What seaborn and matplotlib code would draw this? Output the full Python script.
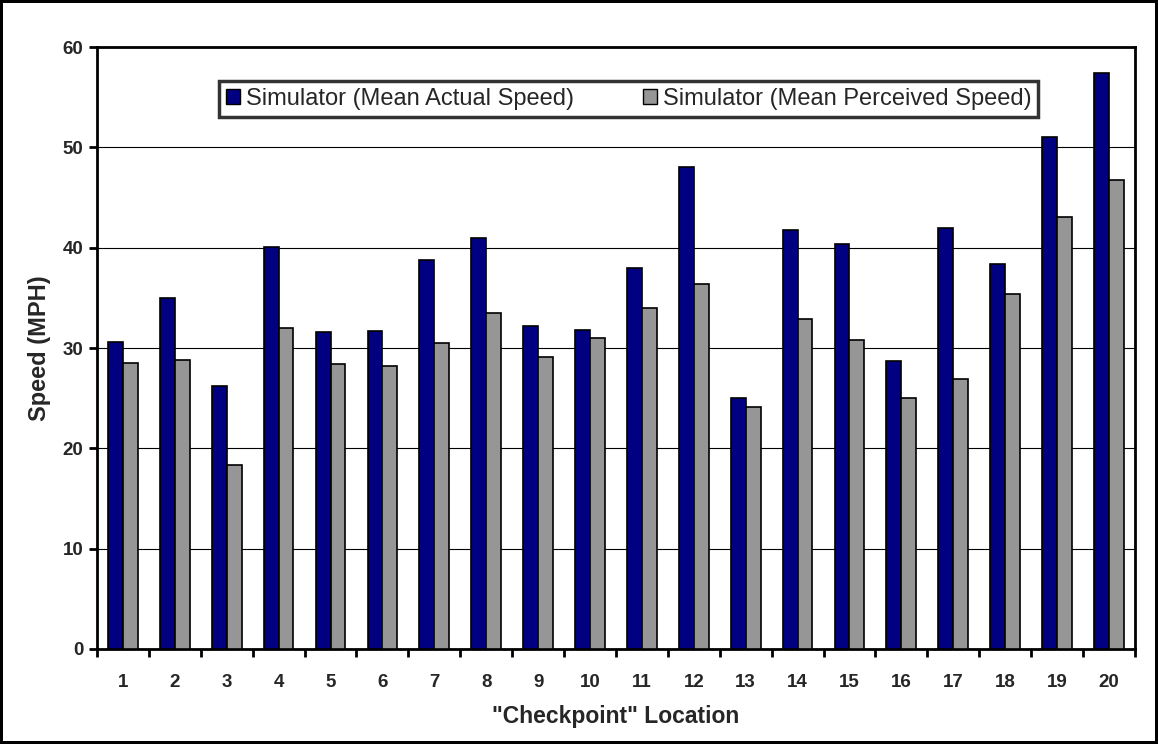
import matplotlib
matplotlib.use('Agg')
import matplotlib.pyplot as plt
import pandas as pd
import seaborn as sns

checkpoints = [str(i) for i in range(1, 21)]
actual = [30.6, 35.0, 26.2, 40.1, 31.6, 31.7, 38.8, 41.0, 32.2, 31.8,
          38.0, 48.0, 25.0, 41.8, 40.4, 28.7, 42.0, 38.4, 51.0, 57.4]
perceived = [28.5, 28.8, 18.3, 32.0, 28.4, 28.2, 30.5, 33.5, 29.1, 31.0,
             34.0, 36.4, 24.1, 32.9, 30.8, 25.0, 26.9, 35.4, 43.1, 46.7]
series = ['Simulator (Mean Actual Speed)', 'Simulator (Mean Perceived Speed)']

df = pd.DataFrame({
    'checkpoint': checkpoints * 2,
    'speed': actual + perceived,
    'series': [series[0]] * 20 + [series[1]] * 20,
})

sns.set_style('white')
plt.rcParams['font.family'] = ['Liberation Sans', 'DejaVu Sans']

fig = plt.figure(figsize=(11.58, 7.44), dpi=100)
fig.patch.set_edgecolor('black')
fig.patch.set_linewidth(4)
ax = fig.add_axes([0.0838, 0.1277, 0.8962, 0.8091])

sns.barplot(data=df, x='checkpoint', y='speed', hue='series', ax=ax,
            palette=['#000080', '#969696'], width=0.572, edgecolor='black',
            linewidth=1.2, saturation=1, zorder=3)

ax.set_ylim(0, 60)
ax.set_xlim(-0.5, 19.5)
ax.set_yticks(range(0, 61, 10))
ax.yaxis.grid(True, color='black', linewidth=0.8, zorder=0)
ax.set_axisbelow(True)
for s in ax.spines.values():
    s.set_color('black')
    s.set_linewidth(2)

ax.set_xticks(range(20))
ax.set_xticklabels(checkpoints)
ax.set_xticks([i - 0.5 for i in range(21)], minor=True)
ax.tick_params(axis='x', which='major', bottom=False, length=0, pad=18, labelsize=13.5)
ax.tick_params(axis='x', which='minor', bottom=True, length=6, width=2, direction='out', color='black')
ax.tick_params(axis='y', which='major', left=True, length=6, width=2, direction='out',
               color='black', labelsize=13.5, pad=4)
for t in ax.get_xticklabels() + ax.get_yticklabels():
    t.set_fontweight('bold')

ax.set_xlabel('"Checkpoint" Location', fontsize=16.5, fontweight='bold', labelpad=10)
ax.set_ylabel('Speed (MPH)', fontsize=17, fontweight='bold', labelpad=8)

leg = ax.legend(ncol=2, loc='upper left', bbox_to_anchor=(0.1175, 0.9435),
                fontsize=17, frameon=True, fancybox=False, handlelength=0.6,
                handleheight=0.6, handletextpad=0.25, columnspacing=2.9,
                borderpad=0.3, borderaxespad=0)
leg.get_frame().set_edgecolor('black')
leg.get_frame().set_linewidth(2.5)
for h in leg.legend_handles:
    h.set_edgecolor('black')
    h.set_linewidth(1)

fig.savefig('out.png', dpi=100)
